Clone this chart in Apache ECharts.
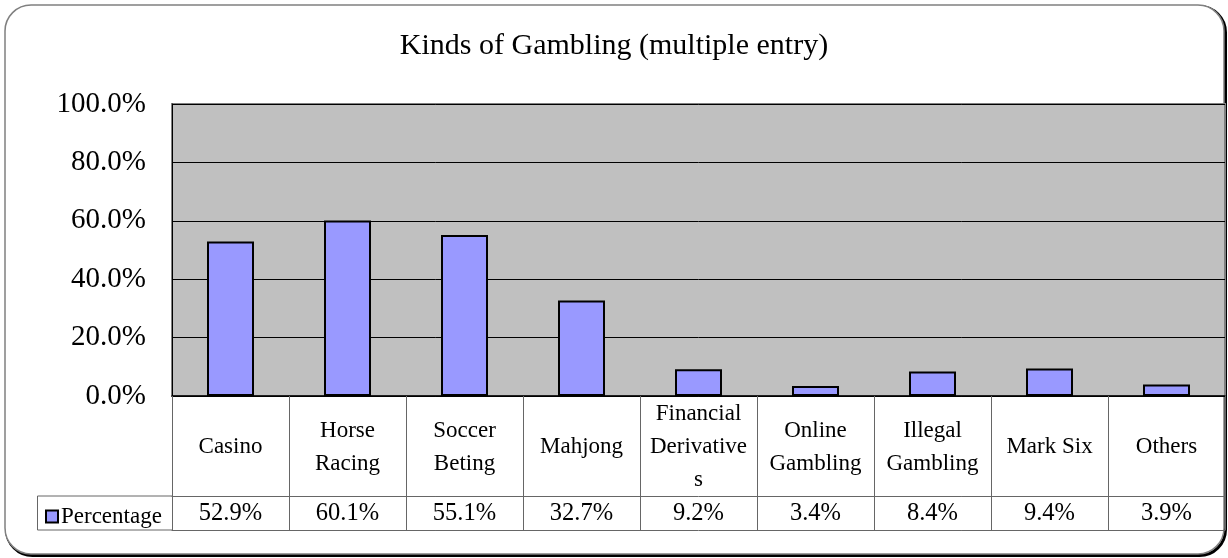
<!DOCTYPE html>
<html><head><meta charset="utf-8">
<script src="https://cdn.jsdelivr.net/npm/echarts@6/dist/echarts.min.js"></script>
<style>html,body{margin:0;padding:0;background:#fff}#c{width:1228px;height:558px}</style>
</head><body><div id="c"></div>
<script>
const titleText = 'Kinds of Gambling (multiple entry)';
const categories = ['Casino', 'Horse\nRacing', 'Soccer\nBeting', 'Mahjong', 'Financial\nDerivative\ns', 'Online\nGambling', 'Illegal\nGambling', 'Mark Six', 'Others'];
const percentage = [52.9, 60.1, 55.1, 32.7, 9.2, 3.4, 8.4, 9.4, 3.9];
const seriesName = 'Percentage';
const yTicks = [0, 20, 40, 60, 80, 100];

const FONT = '"Liberation Serif", "DejaVu Serif", serif';
const chart = echarts.init(document.getElementById('c'), null, {renderer: 'canvas'});
const fmt = v => v.toFixed(1) + '%';
chart.setOption({
  animation: false,
  backgroundColor: '#fff',
  title: {text: titleText, left: 'center', top: 26, textStyle: {fontFamily: FONT, fontSize: 30, fontWeight: 'normal', color: '#000'}},
  grid: {left: 172, right: 3, top: 104, bottom: 162, show: true, backgroundColor: '#C0C0C0', borderColor: '#808080', borderWidth: 2},
  legend: {left: 40, top: 500, icon: 'rect', itemWidth: 12, itemHeight: 12, itemGap: 4,
    textStyle: {fontFamily: FONT, fontSize: 23, color: '#000', padding: [2, 0, 0, -2]}, data: [seriesName]},
  xAxis: [
    {type: 'category', data: categories, position: 'bottom',
      axisLine: {show: true, lineStyle: {color: '#000', width: 1.5}},
      axisTick: {show: true, length: 134, lineStyle: {color: '#666', width: 1}},
      axisLabel: {interval: 0, margin: 51, verticalAlign: 'middle', fontFamily: FONT, fontSize: 23, lineHeight: 33, color: '#000'}},
    {type: 'category', data: percentage.map(fmt), position: 'bottom', offset: 100,
      axisLine: {show: true, lineStyle: {color: '#666', width: 1}},
      axisTick: {show: false},
      axisLabel: {interval: 0, margin: 18, verticalAlign: 'middle', fontFamily: FONT, fontSize: 24.5, color: '#000'}},
    {type: 'category', data: categories, position: 'bottom', offset: 134,
      axisLine: {show: true, lineStyle: {color: '#666', width: 1}},
      axisTick: {show: false}, axisLabel: {show: false}}
  ],
  yAxis: {type: 'value', min: 0, max: 100, interval: 20,
    axisLine: {show: true, lineStyle: {color: '#000', width: 1}},
    axisTick: {show: true, length: 5, inside: true, lineStyle: {color: '#000'}},
    splitLine: {show: true, lineStyle: {color: '#000', width: 1}},
    axisLabel: {margin: 26, fontFamily: FONT, fontSize: 29, color: '#000', formatter: v => yTicks.includes(v) ? fmt(v) : ''}},
  series: [{name: seriesName, type: 'bar', data: percentage, barWidth: 47, xAxisIndex: 0,
    itemStyle: {color: '#9999FF', borderColor: '#000', borderWidth: 2}}],
  graphic: [
    {type: 'rect', z: -1, shape: {x: 5, y: 5, width: 1219, height: 549, r: 26}, style: {fill: 'none', stroke: '#000', lineWidth: 3}, position: [1.5, 1.5]},
    {type: 'rect', z: -1, shape: {x: 5, y: 5, width: 1219, height: 549, r: 26}, style: {fill: '#fff', stroke: '#808080', lineWidth: 1.5}},
    {type: 'polyline', z: 10, shape: {points: [[172, 496], [37.5, 496], [37.5, 530], [172, 530]]}, style: {fill: 'none', stroke: '#666', lineWidth: 1}}
  ]
});
</script></body></html>
